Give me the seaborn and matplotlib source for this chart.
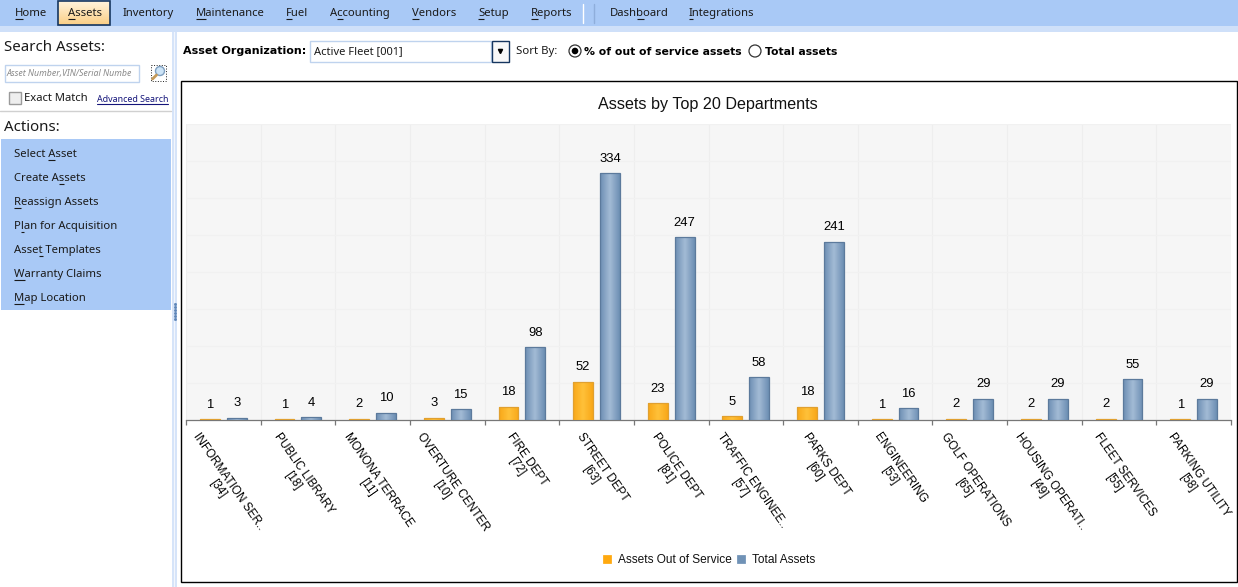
import numpy as np
import pandas as pd
import matplotlib
matplotlib.use("Agg")
import matplotlib.pyplot as plt
from matplotlib.colors import LinearSegmentedColormap
from matplotlib.patches import Circle, Rectangle
import seaborn as sns

W, H = 1238, 587
UI_FONT = ["Noto Sans", "DejaVu Sans"]
BOLD_FONT = ["DejaVu Sans"]
CHART_FONT = ["Liberation Sans", "DejaVu Sans"]

departments = ["INFORMATION SER..", "PUBLIC LIBRARY", "MONONA TERRACE", "OVERTURE CENTER",
               "FIRE DEPT", "STREET DEPT", "POLICE DEPT", "TRAFFIC ENGINEE..", "PARKS DEPT",
               "ENGINEERING", "GOLF OPERATIONS", "HOUSING OPERATI..", "FLEET SERVICES",
               "PARKING UTILITY"]
codes = [34, 18, 11, 10, 72, 63, 81, 57, 60, 53, 65, 49, 55, 58]
out_of_service = [1, 1, 2, 3, 18, 52, 23, 5, 18, 1, 2, 2, 2, 1]
total_assets = [3, 4, 10, 15, 98, 334, 247, 58, 241, 16, 29, 29, 55, 29]

menu_items = [("Home", 15, 0), ("Assets", 68, 0), ("Inventory", 123, None), ("Maintenance", 196, 0),
              ("Fuel", 286, 0), ("Accounting", 330, 1), ("Vendors", 412, 0), ("Setup", 478, 0),
              ("Reports", 531, 0), ("Dashboard", 610, 4), ("Integrations", 689, 0)]
action_items = [("Select Asset", 153, 7), ("Create Assets", 177, 8), ("Reassign Assets", 201, 0),
                ("Plan for Acquisition", 225, 1), ("Asset Templates", 249, 4),
                ("Warranty Claims", 273, 0), ("Map Location", 297, 0)]

sns.set_theme(style="white")
plt.rcParams["font.family"] = CHART_FONT

fig = plt.figure(figsize=(W / 100, H / 100), dpi=100, facecolor="white")

# pixel coordinates for the application chrome
ui = fig.add_axes([0, 0, 1, 1])
ui.set_xlim(0, W)
ui.set_ylim(H, 0)
ui.axis("off")


def box(x0, y0, x1, y1, fc="none", ec="none", lw=1.0, **kw):
    ui.add_patch(Rectangle((x0, y0), x1 - x0, y1 - y0, facecolor=fc, edgecolor=ec, linewidth=lw, **kw))


def label(x, y, s, size=8.1, under=None, color="#1a1a1a", **kw):
    t = ui.text(x, y + 1.5, s, fontsize=size, color=color, family=UI_FONT, va="center", ha="left", **kw)
    if under is not None:
        # underline the mnemonic letter
        r = fig.canvas.get_renderer()
        tmp = ui.text(x, y, s[:under], fontsize=size, family=UI_FONT)
        tmp2 = ui.text(x, y, s[:under + 1], fontsize=size, family=UI_FONT)
        x0 = x + tmp.get_window_extent(r).width if under else x
        x1 = x + tmp2.get_window_extent(r).width
        tmp.remove()
        tmp2.remove()
        ui.plot([x0, x1], [y + 7, y + 7], color=color, lw=0.8, solid_capstyle="butt")
    return t


def bold(x, y, s, size=8):
    ui.text(x, y, s, fontsize=size, color="black", family=BOLD_FONT, weight="bold", va="center", ha="left")


# menu bar
box(0, 0, W, 26, fc="#A9C9F6")
box(0, 26, W, 32, fc="#CFE0F9")
ui.imshow(np.linspace(0, 1, 24)[:, None], extent=(58, 110, 25, 1), aspect="auto", zorder=2,
          cmap=LinearSegmentedColormap.from_list("tab", ["#FFF3DC", "#FBCF86"]))
box(58, 1, 110, 25, ec="#16365F", lw=1.2, zorder=3)
for name, x, idx in menu_items:
    label(x, 12, name, under=idx, zorder=4)
ui.plot([583, 583], [4, 23], color="white", lw=1)
ui.plot([594, 594], [4, 23], color="#8FAEDB", lw=1)

# left panel
box(172, 32, 177, H, fc="#D6E4F9")
box(174, 32, 175, H, fc="#F2F6FD")
label(4, 46, "Search Assets:", size=10.8)
box(4.5, 64.5, 138.5, 81.5, fc="white", ec="#BFD3EE")
label(7, 72, "Asset Number,VIN/Serial Numbe", size=6.3, color="#8a8a8a", style="italic")
box(151, 65, 166, 81, ec="#222222", lw=0.7, ls=":")
ui.add_patch(Circle((160, 71), 4.5, fc="#CDE4F7", ec="#7F9FBF", lw=1))
ui.plot([156.5, 152.5], [75, 79], color="#C49A5A", lw=2)
box(8.5, 91.5, 20.5, 103.5, fc="#EEEEEE", ec="#9A9A9A")
label(24, 97, "Exact Match")
label(97, 98, "Advanced Search", size=6.4, color="#14147A", under=None)
ui.plot([97, 168], [104, 104], color="#14147A", lw=0.8)
ui.plot([0, 171], [110.5, 110.5], color="#D0D0D0", lw=1)
label(4, 126, "Actions:", size=10.8)
box(1, 139, 171, 310, fc="#A9C9F6")
for name, y, idx in action_items:
    label(14, y, name, under=idx)
for y in range(304, 322, 3):
    ui.plot([174.5], [y], marker="s", ms=1, color="#5E86B8")

# filter row
bold(183, 51, "Asset Organization:")
box(309.5, 40.5, 491, 62, fc="white", ec="#BFD3EE")
label(314, 50, "Active Fleet [001]", size=8)
box(491.5, 40.5, 508.5, 61.5, fc="#F8F8F8", ec="#16365F", lw=1)
ui.plot([499.5], [50.5], marker="v", ms=3, color="black")
label(516, 50, "Sort By:", size=8.2)
ui.add_patch(Circle((575, 51), 6, fc="white", ec="#333333", lw=0.9))
ui.add_patch(Circle((575, 51), 3.3, fc="black", ec="none"))
bold(584, 52, "% of out of service assets", size=7.85)
ui.add_patch(Circle((755, 51), 6, fc="white", ec="#333333", lw=0.9))
bold(765, 52, "Total assets", size=7.85)

# chart frame
box(180.5, 80.5, 1236.5, 581.5, fc="white", ec="black", lw=1.0)
ui.text(708, 104.5, "Assets by Top 20 Departments", fontsize=11.6, color="#111111", ha="center", va="center",
        zorder=3)

# the chart itself
df = pd.DataFrame({"department": [f"{d}\n[{c}]" for d, c in zip(departments, codes)],
                   "Assets Out of Service": out_of_service,
                   "Total Assets": total_assets})
long_df = df.melt(id_vars="department", var_name="series", value_name="count")

ax = fig.add_axes([186 / W, 1 - 420 / H, (1231 - 186) / W, (420 - 124) / H], facecolor="#F6F6F6", zorder=2)
sns.barplot(data=long_df, x="department", y="count", hue="series", ax=ax, saturation=1,
            palette=["#FFA90F", "#7092B6"], width=0.72, gap=0.26, linewidth=0.9, dodge=True)

edge_colors = ["#E0A030", "#5C7A9C"]
ramps = [["#F9A819", "#FFC139", "#F9A819"], ["#6D8FB4", "#A3BBD5", "#6D8FB4"]]
grad = np.linspace(0, 1, 32)[None, :]
for cont, edge, ramp in zip(ax.containers, edge_colors, ramps):
    cmap = LinearSegmentedColormap.from_list("bar", ramp)
    for bar in cont:
        bar.set_edgecolor(edge)
        bar.set_zorder(3)
        im = ax.imshow(grad, cmap=cmap, aspect="auto", zorder=2.9,
                       extent=(bar.get_x(), bar.get_x() + bar.get_width(), 0, bar.get_height()))
        im.set_clip_path(bar)
        bar.set_facecolor("none")
    ax.bar_label(cont, padding=6, fontsize=9.4, color="black", zorder=5)

ax.set_xlim(-0.5, len(departments) - 0.5)
ax.set_ylim(0, 400)
ax.set_xlabel("")
ax.set_ylabel("")
ax.set_yticks(np.arange(0, 401, 50))
ax.tick_params(axis="y", length=0, labelleft=False)
ax.set_xticks(np.arange(-0.5, len(departments)), minor=True)
ax.grid(True, which="minor", axis="x", color="#EEEEEE", lw=0.8)
ax.grid(True, which="major", axis="y", color="#F1F1F1", lw=0.8)
ax.set_axisbelow(True)
ax.tick_params(axis="x", which="minor", length=3.5, width=0.9, color="#777777", bottom=True)
ax.tick_params(axis="x", which="major", length=0, pad=7.5, labelsize=8.5, labelcolor="black")
plt.setp(ax.get_xticklabels(), rotation=-55, ha="center", va="top")
sns.despine(ax=ax, left=True, top=True, right=True)
ax.spines["bottom"].set_color("#777777")
ax.spines["bottom"].set_linewidth(0.9)
ax.spines["bottom"].set_zorder(2)

sns.move_legend(ax, "center", bbox_to_anchor=(708.5 / W, 1 - 560 / H), bbox_transform=fig.transFigure,
                ncol=2, frameon=False, title=None, fontsize=8.6, handlelength=0.85, handleheight=0.85,
                columnspacing=0.4, handletextpad=0.45, labelcolor="#111111")

fig.savefig("out.png", dpi=100)
